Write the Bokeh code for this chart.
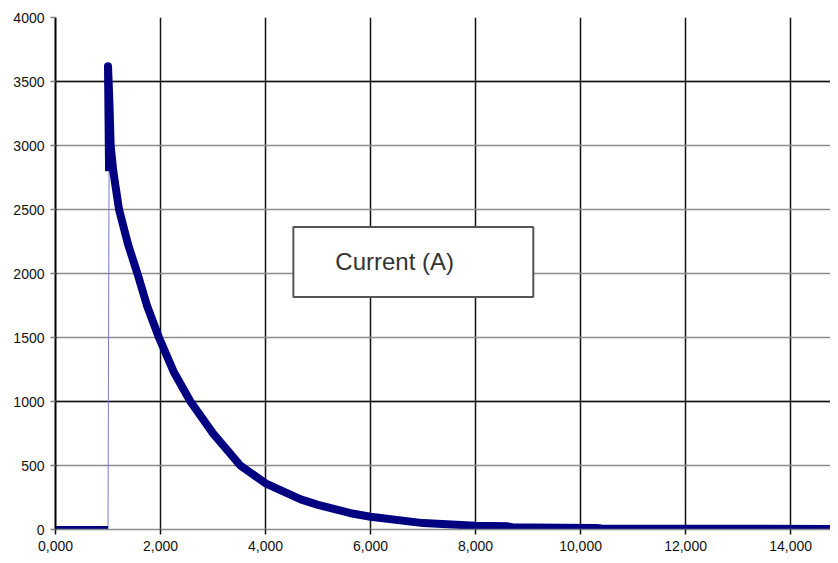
from bokeh.plotting import figure
from bokeh.models import FixedTicker, Grid, BoxAnnotation, Label, Range1d
from bokeh.embed import file_html
from bokeh.resources import INLINE

# ---- data ----
time_s = [0.00, 0.50, 1.00, 1.02, 1.00, 1.01, 1.03, 1.05, 1.10, 1.21, 1.38, 1.56,
          1.75, 1.97, 2.25, 2.57, 3.00, 3.52, 4.00, 4.67, 5.00, 5.62, 6.00, 7.00,
          8.00, 8.60, 8.70, 9.00, 10.30, 10.40, 12.00, 14.90]
current_a = [0, 0, 0, 2800, 3620, 3520, 3300, 3000, 2800, 2500, 2230, 2000,
             1740, 1500, 1233, 1000, 751, 500, 361, 235, 192, 127, 100, 50,
             29, 25, 18, 16, 12, 8, 6, 4]
series_name = "Current (A)"

x_ticks = [0, 2, 4, 6, 8, 10, 12, 14]
x_tick_labels = ["0,000", "2,000", "4,000", "6,000", "8,000", "10,000", "12,000", "14,000"]
y_ticks = [0, 500, 1000, 1500, 2000, 2500, 3000, 3500, 4000]
y_tick_labels = ["0", "500", "1000", "1500", "2000", "2500", "3000", "3500", "4000"]
y_dark_ticks = [1000, 3500]

FONT = "Liberation Sans"

p = figure(width=830, height=555, output_backend="svg", toolbar_location=None,
           x_range=Range1d(0, 14.76), y_range=Range1d(0, 4000),
           min_border_left=55, min_border_right=0, min_border_top=17, min_border_bottom=26)
p.outline_line_color = None
p.background_fill_color = "white"
p.border_fill_color = "white"

# axes
p.xaxis.ticker = FixedTicker(ticks=x_ticks)
p.xaxis.major_label_overrides = {t: l for t, l in zip(x_ticks, x_tick_labels)}
p.yaxis.ticker = FixedTicker(ticks=y_ticks)
p.yaxis.major_label_overrides = {t: l for t, l in zip(y_ticks, y_tick_labels)}
for ax in (p.xaxis[0], p.yaxis[0]):
    ax.minor_tick_line_color = None
    ax.major_tick_in = 0
    ax.major_tick_out = 5
    ax.major_label_standoff = 6
    ax.major_label_text_font = FONT
    ax.major_label_text_font_size = "14px"
    ax.major_label_text_color = "#111111"
p.xaxis.axis_line_color = "#8c8c8c"
p.xaxis.axis_line_width = 1.5
p.xaxis.major_tick_line_color = "#111111"
p.xaxis.major_tick_line_width = 1.5
p.yaxis.axis_line_color = "#000000"
p.yaxis.axis_line_width = 2
p.yaxis.major_tick_line_color = "#808080"
p.yaxis.major_tick_line_width = 1.5

# grids
p.xgrid.ticker = FixedTicker(ticks=x_ticks)
p.xgrid.grid_line_color = "#111111"
p.xgrid.grid_line_width = 1.5
p.ygrid.ticker = FixedTicker(ticks=y_ticks)
p.ygrid.grid_line_color = "#8c8c8c"
p.ygrid.grid_line_width = 1.5
dark = Grid(dimension=1, ticker=FixedTicker(ticks=y_dark_ticks),
            grid_line_color="#111111", grid_line_width=1.5)
p.add_layout(dark)

# series: thin connecting line + dense marker band
p.line(time_s, current_a, line_color="#7a7ac8", line_width=1)
p.line(time_s[:3], current_a[:3], line_color="#000080", line_width=7)
p.line(time_s[3:], current_a[3:], line_color="#000080", line_width=8, line_join="round")

# legend-like box
box = BoxAnnotation(left=4.53, right=9.10, bottom=1816, top=2363,
                    fill_color="white", fill_alpha=1.0,
                    line_color="#555555", line_alpha=1.0, line_width=2)
p.add_layout(box)
lab = Label(x=5.33, y=2090, text=series_name, text_font=FONT,
            text_font_size="24px", text_color="#333333", text_baseline="middle")
p.add_layout(lab)

open("out.html", "w").write(file_html(p, INLINE))
